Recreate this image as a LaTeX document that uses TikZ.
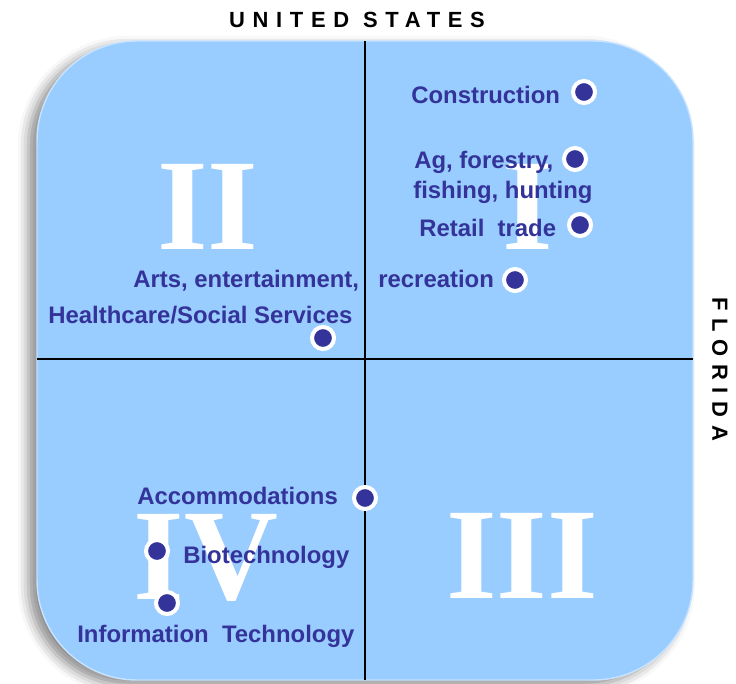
\documentclass[tikz,border=0pt]{standalone}
\usepackage{fontspec}
\usepackage{tikz}
\usetikzlibrary{shadows.blur}

\newfontfamily\labelfont{Liberation Sans}
\newfontfamily\axisfont[LetterSpace=35]{Liberation Sans}
\newfontfamily\romanfont{Liberation Serif}
\definecolor{quadblue}{HTML}{99CCFF}
\definecolor{sectorblue}{HTML}{333399}

\begin{document}
\begin{tikzpicture}[x=0.02cm,y=-0.02cm,
  sector/.style={font=\labelfont\bfseries\fontsize{13.6}{16}\selectfont, text=sectorblue, inner sep=0pt, anchor=base west},
  numeral/.style={font=\romanfont\bfseries\fontsize{74}{74}\selectfont, text=white, inner sep=0pt, anchor=base},
  axislabel/.style={font=\axisfont\bfseries\fontsize{12.5}{12.5}\selectfont, inner sep=0pt},
  sectordot/.style={circle, fill=sectorblue, draw=white, line width=2.3pt, minimum size=0.44cm, inner sep=0pt}]

  \useasboundingbox (0,0) rectangle (736,683);

  \fill[quadblue, draw=quadblue!55!white, line width=0.8pt, rounded corners=2cm,
    blur shadow={shadow xshift=-5pt, shadow yshift=-3pt, shadow blur radius=6pt, shadow opacity=45}]
    (37,41) rectangle (693,680);

  \coordinate (top) at (365,41);
  \coordinate (bottom) at (365,680);
  \coordinate (left) at (37,359);
  \coordinate (right) at (693,359);
  \draw[line width=1.6pt] (top) -- (bottom);
  \draw[line width=1.6pt] (left) -- (right);

  \node[axislabel] (us) at (357,20) {UNITED STATES};
  \node[axislabel, rotate=-90] (fl) at (720,369) {FLORIDA};

  \node[numeral] (q2) at (208,249) {II};
  \node[numeral] (q1) at (528,249) {I};
  \node[numeral] (q4) at (206,599) {IV};
  \node[numeral] (q3) at (522,598) {III};

  \node[sector] (construction) at (411,103) {Construction};
  \node[sector] (ag) at (414,168) {Ag, forestry,};
  \node[sector] (fishing) at (413,198) {fishing, hunting};
  \node[sector] (retail) at (419,236) {Retail\ \ trade};
  \node[sector] (recreation) at (378,287) {recreation};
  \node[sector] (arts) at (133,287) {Arts, entertainment,};
  \node[sector] (health) at (48,323) {Healthcare/Social Services};
  \node[sector] (accom) at (137,504) {Accommodations};
  \node[sector] (biotech) at (183,563) {Biotechnology};
  \node[sector] (infotech) at (77,642) {Information\ \ Technology};

  \node[sectordot] (d1) at (584,92) {};
  \node[sectordot] (d2) at (575,159) {};
  \node[sectordot] (d3) at (580,225) {};
  \node[sectordot] (d4) at (515,280) {};
  \node[sectordot] (d5) at (323,338) {};
  \node[sectordot] (d6) at (365,498) {};
  \node[sectordot] (d7) at (157,551) {};
  \node[sectordot] (d8) at (167,603) {};
\end{tikzpicture}
\end{document}
